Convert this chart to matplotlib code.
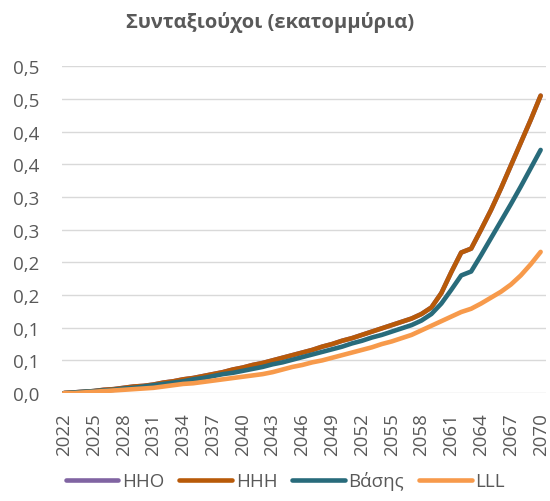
import matplotlib
matplotlib.use("Agg")
import matplotlib.pyplot as plt

plt.rcParams['font.family'] = ['Open Sans', 'DejaVu Sans']

years = list(range(2022, 2071))

hhh = [0.000, 0.001, 0.002, 0.003, 0.005, 0.006, 0.008, 0.010, 0.011, 0.013,
       0.016, 0.018, 0.021, 0.023, 0.026, 0.029, 0.032, 0.036, 0.039, 0.043,
       0.046, 0.050, 0.054, 0.058, 0.062, 0.066, 0.071, 0.075, 0.080, 0.084,
       0.089, 0.094, 0.099, 0.104, 0.109, 0.114, 0.121, 0.131, 0.153, 0.185,
       0.215, 0.221, 0.250, 0.280, 0.313, 0.348, 0.383, 0.418, 0.455]

# HHO coincides with HHH and is hidden underneath it
hho = list(hhh)

vasis = [0.000, 0.001, 0.002, 0.003, 0.004, 0.005, 0.007, 0.008, 0.010, 0.012,
         0.014, 0.016, 0.018, 0.021, 0.023, 0.026, 0.029, 0.031, 0.034, 0.037,
         0.040, 0.044, 0.047, 0.051, 0.055, 0.059, 0.063, 0.067, 0.071, 0.076,
         0.080, 0.085, 0.089, 0.094, 0.099, 0.104, 0.111, 0.121, 0.137, 0.158,
         0.180, 0.186, 0.211, 0.237, 0.263, 0.289, 0.316, 0.344, 0.372]

lll = [0.000, 0.000, 0.001, 0.002, 0.003, 0.004, 0.005, 0.006, 0.007, 0.008,
       0.010, 0.012, 0.014, 0.015, 0.017, 0.019, 0.021, 0.023, 0.025, 0.027,
       0.029, 0.032, 0.036, 0.040, 0.043, 0.047, 0.050, 0.054, 0.058, 0.062,
       0.066, 0.070, 0.075, 0.079, 0.084, 0.089, 0.096, 0.103, 0.110, 0.117,
       0.124, 0.129, 0.137, 0.146, 0.155, 0.166, 0.180, 0.197, 0.216]

y_ticks = [0.0, 0.05, 0.1, 0.15, 0.2, 0.25, 0.3, 0.35, 0.4, 0.45, 0.5]
y_labels = ['0,0', '0,1', '0,1', '0,2', '0,2', '0,3', '0,3', '0,4', '0,4', '0,5', '0,5']
x_ticks = years[::3]

series = [
    ('HHO', hho, '#8064A2'),
    ('HHH', hhh, '#B85A09'),
    ('Βάσης', vasis, '#286B7B'),
    ('LLL', lll, '#F79A4B'),
]

fig = plt.figure(figsize=(5.5, 5.02), dpi=100)
ax = fig.add_axes([0.112, 0.215, 0.880, 0.651])

for nombre, valores, color in series:
    ax.plot(years, valores, color=color, lw=3.3, label=nombre,
            solid_capstyle='round', solid_joinstyle='round')

ax.set_xlim(2021.75, 2070.5)
ax.set_ylim(0, 0.5)
ax.set_yticks(y_ticks)
ax.set_yticklabels(y_labels)
ax.set_xticks(x_ticks)
ax.set_xticklabels([str(a) for a in x_ticks], rotation=90)

ax.grid(axis='y', color='#D9D9D9', lw=1)
ax.set_axisbelow(True)
for lado in ['top', 'right', 'left', 'bottom']:
    ax.spines[lado].set_visible(False)
ax.tick_params(axis='both', length=0, colors='#595959', labelsize=13.5)
ax.tick_params(axis='y', pad=16)
ax.tick_params(axis='x', pad=14)

fig.text(0.491, 0.955, 'Συνταξιούχοι (εκατομμύρια)', fontsize=14.5,
         fontweight='bold', color='#595959', ha='center', va='center')

fig.legend(loc='lower center', bbox_to_anchor=(0.519, -0.012), ncol=4,
           frameon=False, fontsize=13.5, handlelength=2.8, handletextpad=0.2,
           columnspacing=0.8, labelcolor='#595959')

fig.savefig('out.png', dpi=100)
